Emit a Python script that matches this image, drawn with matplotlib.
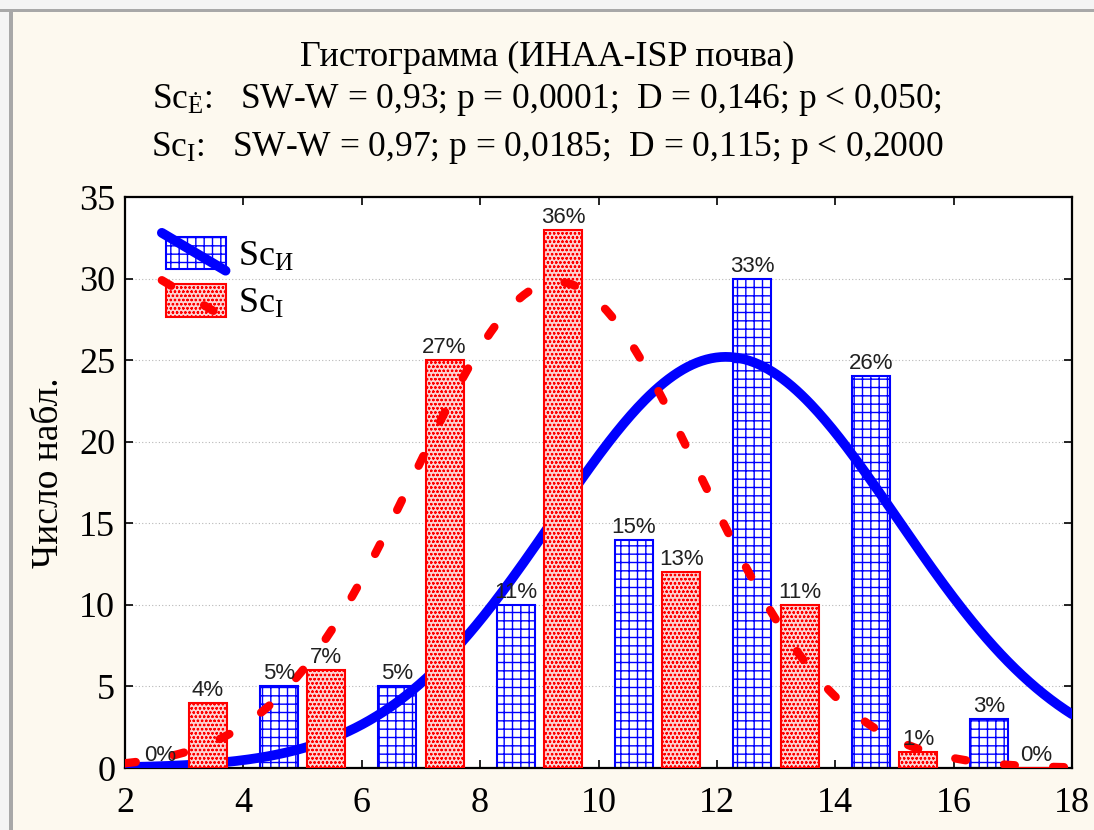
import numpy as np
import matplotlib
matplotlib.use("Agg")
import matplotlib.pyplot as plt
from matplotlib.patches import Rectangle
from matplotlib.lines import Line2D
from matplotlib.legend_handler import HandlerBase

# ---- data -------------------------------------------------------------
bin_centers = [3, 5, 7, 9, 11, 13, 15, 17]
counts_sc_e = [0, 5, 5, 10, 14, 30, 24, 3]      # Sc (ИНАА)
counts_sc_i = [4, 6, 25, 33, 12, 10, 1, 0]      # Sc (ISP)

# fitted normal curves: mean, standard deviation, peak height
fit_sc_e = (12.15, 2.9, 25.2)
fit_sc_i = (9.3, 2.4, 29.8)

x_ticks = [2, 4, 6, 8, 10, 12, 14, 16, 18]
y_ticks = [0, 5, 10, 15, 20, 25, 30, 35]

title_lines = [
    "Гистограмма (ИНАА-ISP почва)",
    r"Sc$_{\mathrm{Ė}}$:   SW-W = 0,93; p = 0,0001;  D = 0,146; p < 0,050;",
    r"Sc$_{\mathrm{I}}$:   SW-W = 0,97; p = 0,0185;  D = 0,115; p < 0,2000",
]
legend_labels = [r"Sc$_{\mathrm{И}}$", r"Sc$_{\mathrm{I}}$"]
y_label = "Число набл."

# ---- style ------------------------------------------------------------
plt.rcParams["font.family"] = ["Liberation Serif", "DejaVu Serif"]
plt.rcParams["mathtext.fontset"] = "custom"
plt.rcParams["mathtext.rm"] = "Liberation Serif"
plt.rcParams["mathtext.it"] = "Liberation Serif:italic"
plt.rcParams["mathtext.bf"] = "Liberation Serif:bold"

BG = "#fdf9ef"
BLUE = "#0000ff"
RED = "#ff0000"
BAR_W = 0.64
OFFSET = 0.4

blue_bar = dict(facecolor="white", edgecolor=BLUE, hatch="++", linewidth=1.5)
red_bar = dict(facecolor="#fcd2d2", edgecolor=RED, hatch="oooo", linewidth=1.5)
blue_line = dict(color=BLUE, linewidth=7, solid_capstyle="round")
red_line = dict(color=RED, linewidth=6, linestyle=(0, (1.3, 4.6)),
                dash_capstyle="round")

fig = plt.figure(figsize=(10.94, 8.30), dpi=100, facecolor=BG)

# window frame around the plot area
W, H = 1094, 830
frame = [
    ((0, 1 - 9 / H), 1, 9 / H, "#f4f4f4"),
    ((0, 1 - 12 / H), 1, 3 / H, "#a8a8a8"),
    ((0, 0), 9 / W, 1 - 12 / H, "#f4f4f4"),
    ((9 / W, 0), 4 / W, 1 - 12 / H, "#a8a8a8"),
]
for xy, w, h, c in frame:
    fig.add_artist(Rectangle(xy, w, h, transform=fig.transFigure,
                             facecolor=c, edgecolor="none"))

ax = fig.add_axes([125 / W, 62 / H, 947 / W, 571 / H])
ax.set_facecolor("white")

centers = np.array(bin_centers, dtype=float)
n_e = np.array(counts_sc_e)
n_i = np.array(counts_sc_i)
pct_e = np.round(100 * n_e / n_e.sum()).astype(int)
pct_i = np.round(100 * n_i / n_i.sum()).astype(int)


def normal_curve(x, params):
    m, s, peak = params
    return peak * np.exp(-0.5 * ((x - m) / s) ** 2)


xs = np.linspace(2, 18, 400)

# blue bars, blue curve, then red bars and red dashed curve on top
with plt.rc_context({"hatch.linewidth": 1.0}):
    ax.bar(centers - OFFSET, n_e, width=BAR_W, zorder=2, **blue_bar)
ax.plot(xs, normal_curve(xs, fit_sc_e), zorder=3, **blue_line)
with plt.rc_context({"hatch.linewidth": 0.6}):
    ax.bar(centers + OFFSET, n_i, width=BAR_W, zorder=4, **red_bar)
ax.plot(xs, normal_curve(xs, fit_sc_i), zorder=5, **red_line)

pct_font = dict(family=["Liberation Sans", "DejaVu Sans"], size=16,
                color="#202020", ha="center", va="bottom", zorder=6)
for x, h, p in zip(centers - OFFSET, n_e, pct_e):
    ax.text(x, h + 0.12, f"{p}%", **pct_font)
for x, h, p in zip(centers + OFFSET, n_i, pct_i):
    ax.text(x, h + 0.12, f"{p}%", **pct_font)

ax.set_xlim(2, 18)
ax.set_ylim(0, 35)
ax.set_xticks(x_ticks)
ax.set_yticks(y_ticks)
ax.tick_params(direction="in", length=6, width=1.2, labelsize=26,
               top=True, right=True)
ax.tick_params(axis="x", pad=14)
ax.tick_params(axis="y", pad=7)
ax.yaxis.grid(True, linestyle=(0, (1, 2)), color="#b8b8b8", linewidth=0.8)
ax.set_axisbelow(True)
for sp in ax.spines.values():
    sp.set_linewidth(1.6)
    sp.set_color("black")
ax.set_ylabel(y_label, fontsize=27)
ax.yaxis.set_label_coords(-0.062, 0.518)


class BarCurveHandler(HandlerBase):
    def __init__(self, bar_kw, line_kw, hatch_lw):
        super().__init__()
        self.bar_kw = bar_kw
        self.line_kw = line_kw
        self.hatch_lw = hatch_lw

    def create_artists(self, legend, orig_handle, xdescent, ydescent,
                       width, height, fontsize, trans):
        x0, y0 = -xdescent, -ydescent
        with plt.rc_context({"hatch.linewidth": self.hatch_lw}):
            rect = Rectangle((x0, y0), width, height, transform=trans,
                             **self.bar_kw)
        line = Line2D([x0 - 3, x0 + width], [y0 + height + 3, y0 - 1],
                      transform=trans, **self.line_kw)
        return [rect, line]


h_e = Rectangle((0, 0), 1, 1)
h_i = Rectangle((0, 0), 1, 1)
ax.legend([h_e, h_i], legend_labels,
          handler_map={h_e: BarCurveHandler(blue_bar, blue_line, 1.0),
                       h_i: BarCurveHandler(red_bar, red_line, 0.6)},
          loc="upper left", bbox_to_anchor=(41 / 947, 1 - 40 / 571),
          borderaxespad=0, borderpad=0, frameon=False, fontsize=26,
          handlelength=1.65, handleheight=1.0, handletextpad=0.35,
          labelspacing=0.3)

# title block
for y, txt, size in zip([57, 100, 148], title_lines, [26, 25.5, 25.5]):
    fig.text(0.5, 1 - y / H, txt, ha="center", va="center", fontsize=size)

fig.savefig("out.png", dpi=100, facecolor=BG)
